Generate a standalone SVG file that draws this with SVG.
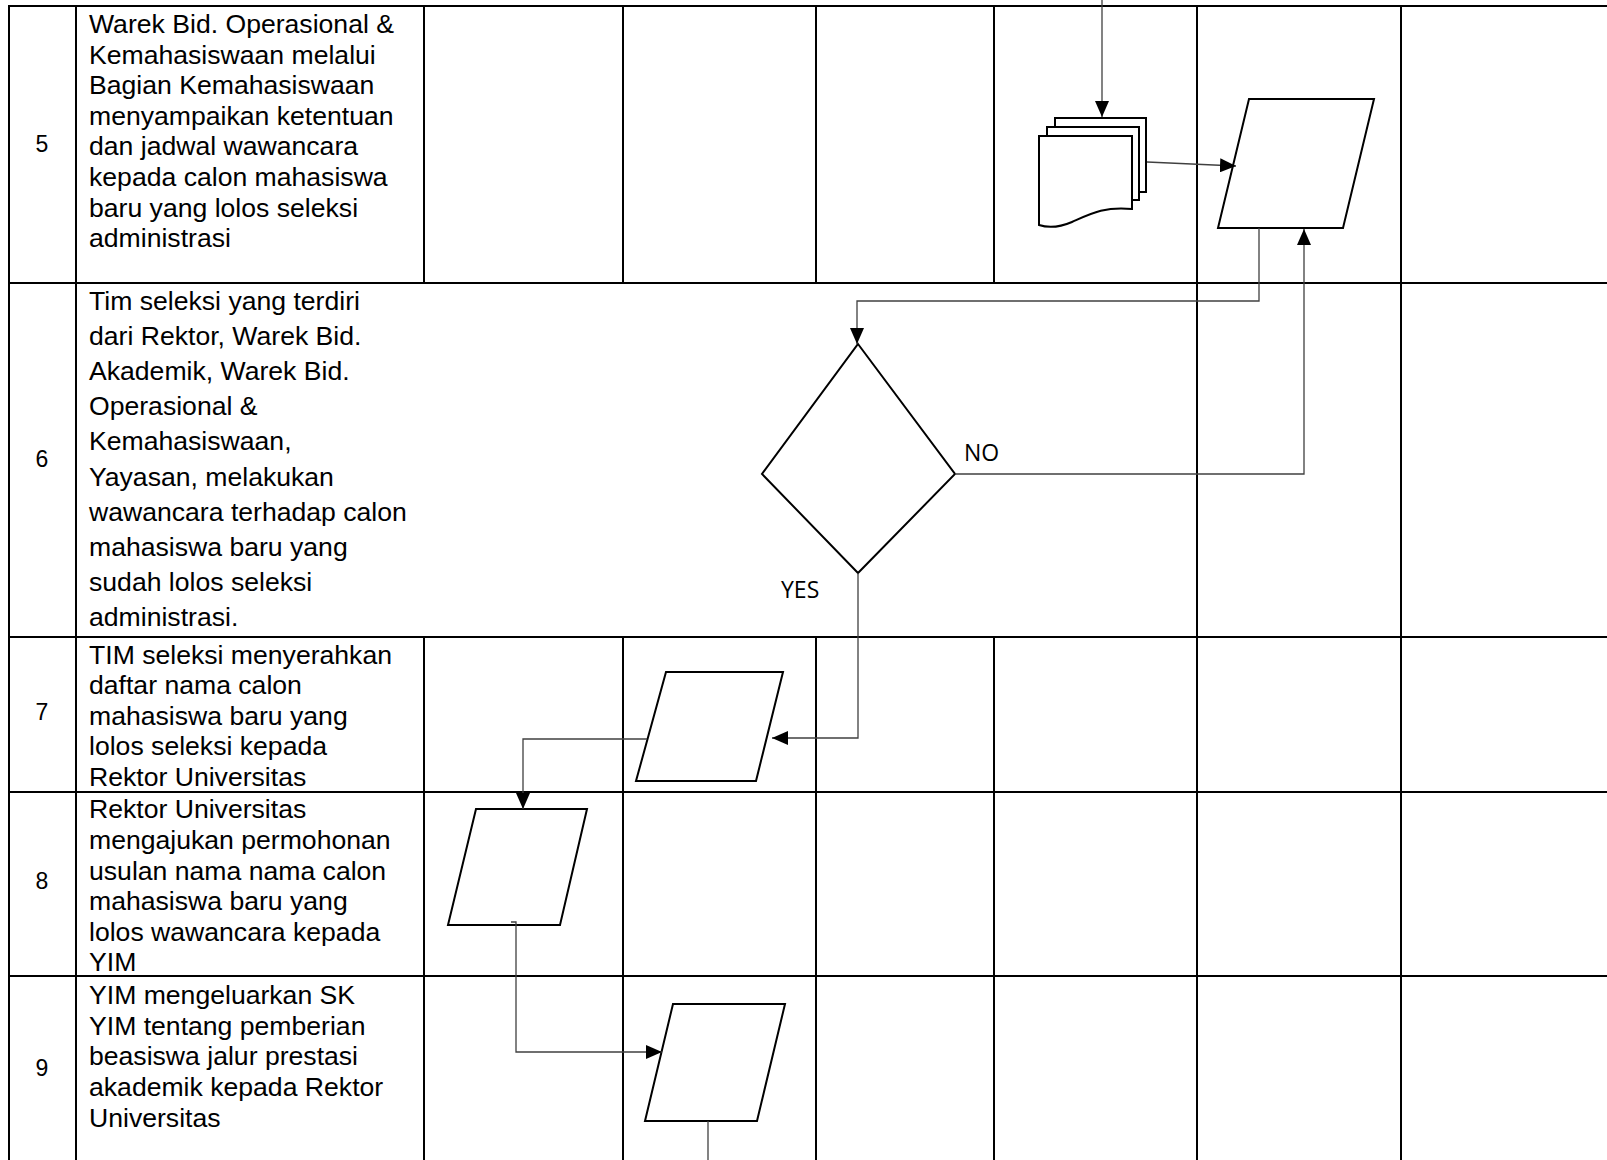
<svg xmlns="http://www.w3.org/2000/svg" width="1607" height="1160" viewBox="0 0 1607 1160">
<style>
.grid{stroke:#000;stroke-width:2;fill:none}
.shape{stroke:#000;stroke-width:2;fill:#fff}
.conn{stroke:#404040;stroke-width:1.3;fill:none}
.txt{font-family:"Liberation Sans",Arial,sans-serif;font-size:26.6px;fill:#000}
.num{font-family:"Liberation Sans",Arial,sans-serif;font-size:23px;fill:#000;text-anchor:middle}
.lbl{font-family:"Open Sans","Noto Sans",sans-serif;font-size:23px;fill:#000}
</style>
<defs>
<marker id="ah" viewBox="0 0 16 14" refX="16" refY="7" markerWidth="16" markerHeight="14" markerUnits="userSpaceOnUse" orient="auto">
<path d="M0,0 L16,7 L0,14 Z" fill="#000"/>
</marker>
</defs>
<rect x="0" y="0" width="1607" height="1160" fill="#fff"/>
<g id="grid" class="grid">
<line x1="8" y1="6" x2="1607" y2="6"/>
<line x1="8" y1="283" x2="1607" y2="283"/>
<line x1="8" y1="637" x2="1607" y2="637"/>
<line x1="8" y1="792" x2="1607" y2="792"/>
<line x1="8" y1="976" x2="1607" y2="976"/>
<line x1="9" y1="5" x2="9" y2="1160"/>
<line x1="76" y1="6" x2="76" y2="1160"/>
<line x1="424" y1="6" x2="424" y2="283"/>
<line x1="424" y1="637" x2="424" y2="1160"/>
<line x1="623" y1="6" x2="623" y2="283"/>
<line x1="623" y1="637" x2="623" y2="1160"/>
<line x1="816" y1="6" x2="816" y2="283"/>
<line x1="816" y1="637" x2="816" y2="1160"/>
<line x1="994" y1="6" x2="994" y2="283"/>
<line x1="994" y1="637" x2="994" y2="1160"/>
<line x1="1197" y1="6" x2="1197" y2="1160"/>
<line x1="1401" y1="6" x2="1401" y2="1160"/>
</g>
<g id="row5-text">
<text class="num" x="42" y="152">5</text>
<text class="txt" x="89" y="33">Warek Bid. Operasional &amp;</text>
<text class="txt" x="89" y="63.6">Kemahasiswaan melalui</text>
<text class="txt" x="89" y="94.2">Bagian Kemahasiswaan</text>
<text class="txt" x="89" y="124.8">menyampaikan ketentuan</text>
<text class="txt" x="89" y="155.4">dan jadwal wawancara</text>
<text class="txt" x="89" y="186">kepada calon mahasiswa</text>
<text class="txt" x="89" y="216.6">baru yang lolos seleksi</text>
<text class="txt" x="89" y="247.2">administrasi</text>
</g>
<g id="row6-text">
<text class="num" x="42" y="467">6</text>
<text class="txt" x="89" y="310">Tim seleksi yang terdiri</text>
<text class="txt" x="89" y="345.1">dari Rektor, Warek Bid.</text>
<text class="txt" x="89" y="380.2">Akademik, Warek Bid.</text>
<text class="txt" x="89" y="415.3">Operasional &amp;</text>
<text class="txt" x="89" y="450.4">Kemahasiswaan,</text>
<text class="txt" x="89" y="485.5">Yayasan, melakukan</text>
<text class="txt" x="89" y="520.6">wawancara terhadap calon</text>
<text class="txt" x="89" y="555.7">mahasiswa baru yang</text>
<text class="txt" x="89" y="590.8">sudah lolos seleksi</text>
<text class="txt" x="89" y="625.9">administrasi.</text>
</g>
<g id="row7-text">
<text class="num" x="42" y="720">7</text>
<text class="txt" x="89" y="663.6">TIM seleksi menyerahkan</text>
<text class="txt" x="89" y="694.2">daftar nama calon</text>
<text class="txt" x="89" y="724.8">mahasiswa baru yang</text>
<text class="txt" x="89" y="755.4">lolos seleksi kepada</text>
<text class="txt" x="89" y="786">Rektor Universitas</text>
</g>
<g id="row8-text">
<text class="num" x="42" y="889">8</text>
<text class="txt" x="89" y="818.4">Rektor Universitas</text>
<text class="txt" x="89" y="849">mengajukan permohonan</text>
<text class="txt" x="89" y="879.6">usulan nama nama calon</text>
<text class="txt" x="89" y="910.2">mahasiswa baru yang</text>
<text class="txt" x="89" y="940.8">lolos wawancara kepada</text>
<text class="txt" x="89" y="971.4">YIM</text>
</g>
<g id="row9-text">
<text class="num" x="42" y="1076">9</text>
<text class="txt" x="89" y="1004">YIM mengeluarkan SK</text>
<text class="txt" x="89" y="1034.7">YIM tentang pemberian</text>
<text class="txt" x="89" y="1065.4">beasiswa jalur prestasi</text>
<text class="txt" x="89" y="1096.1">akademik kepada Rektor</text>
<text class="txt" x="89" y="1126.8">Universitas</text>
</g>
<g id="multidoc">
<rect class="shape" x="1055" y="118" width="91" height="74"/>
<rect class="shape" x="1047" y="127" width="92" height="73"/>
<path class="shape" d="M1039,136 H1132 V209 C1105,206 1090,214 1072,222 C1058,228 1048,228 1039,225 Z"/>
</g>
<g id="io-row5">
<polygon class="shape" points="1249,99 1374,99 1343,228 1218,228"/>
</g>
<g id="decision">
<polygon class="shape" points="858,344 955,474 858,573 762,474"/>
</g>
<g id="io-row7">
<polygon class="shape" points="666,672 783,672 756,781 636,781"/>
</g>
<g id="io-row8">
<polygon class="shape" points="476,809 587,809 560,925 448,925"/>
</g>
<g id="io-row9">
<polygon class="shape" points="673,1004 785,1004 757,1121 645,1121"/>
</g>
<g id="connectors">
<path class="conn" d="M1102,0 V117" marker-end="url(#ah)"/>
<path class="conn" d="M1147,162 L1236,166" marker-end="url(#ah)"/>
<path class="conn" d="M1259,228 V301 H857 V344" marker-end="url(#ah)"/>
<path class="conn" d="M955,474 H1304 V229" marker-end="url(#ah)"/>
<path class="conn" d="M858,573 V738 H772" marker-end="url(#ah)"/>
<path class="conn" d="M647,739 H523 V809" marker-end="url(#ah)"/>
<path class="conn" d="M511,922 H516 V1052 H662" marker-end="url(#ah)"/>
<path class="conn" d="M708,1121 V1160"/>
</g>
<g id="labels">
<text class="lbl" x="964" y="461">NO</text>
<text class="lbl" x="781" y="598">YES</text>
</g>
</svg>
